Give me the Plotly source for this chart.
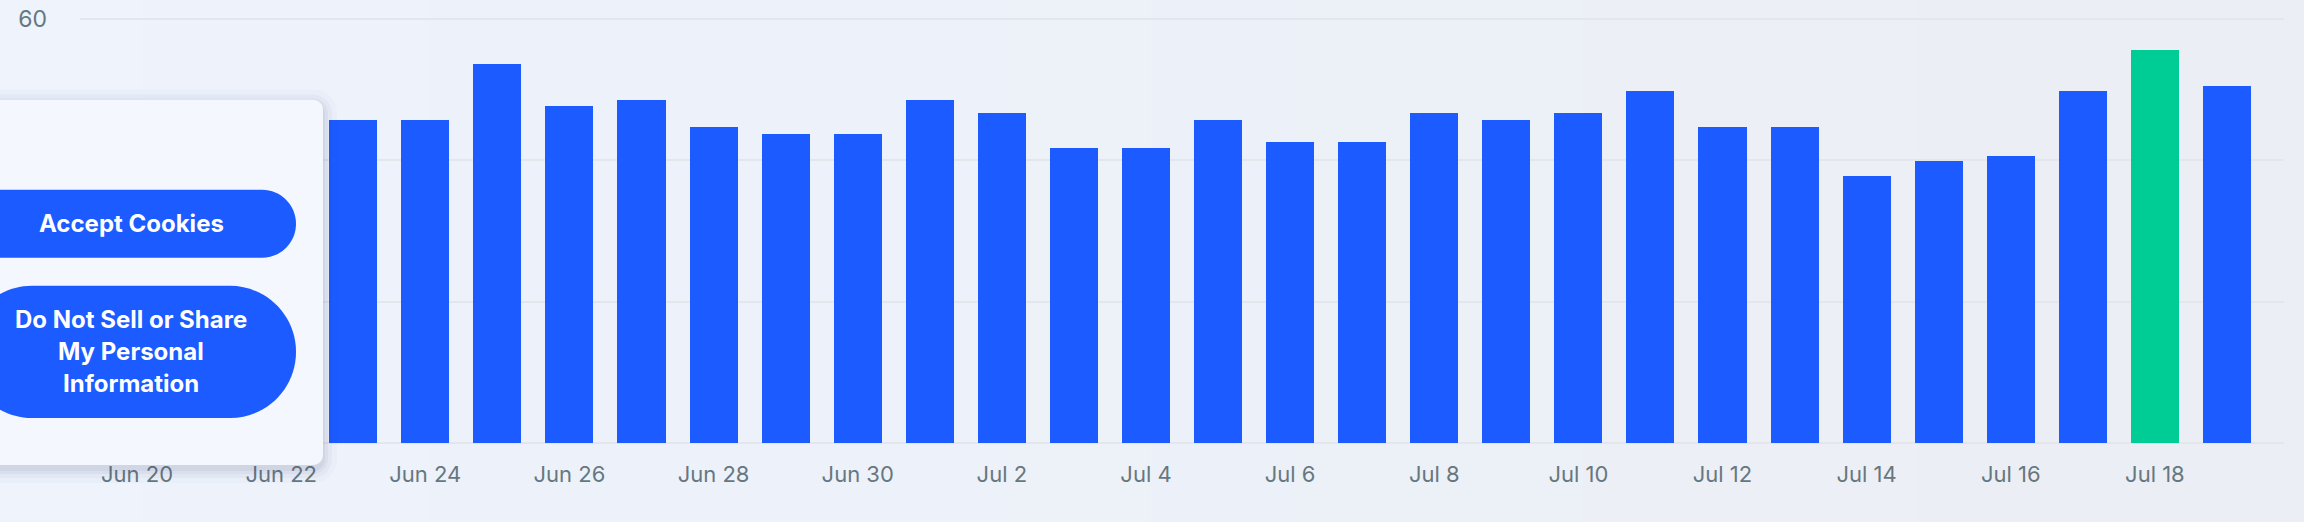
import pandas as pd
import plotly.graph_objects as go

# ---- data ----
start_date = "2024-06-20"
end_date = "2024-07-19"
values = [44.0, 46.0, 45.0,            # Jun 20-22 (hidden behind the cookie panel, estimated)
          45.7, 45.7, 53.6, 47.7, 48.5, 44.6, 43.7, 43.7,   # Jun 23-30
          48.5, 46.6, 41.7, 41.7, 45.7, 42.6, 42.6, 46.6,   # Jul 1-8
          45.7, 46.6, 49.7, 44.6, 44.6, 37.8, 39.8, 40.6,   # Jul 9-16
          49.7, 55.6, 50.5]                                  # Jul 17-19
highlight_date = "2024-07-18"
y_ticks = [0, 20, 40, 60]
y_tick_text = ["", "", "", "60"]   # only the 60 label is visible (others are under the panel)
button_accept = "Accept Cookies"
button_dns = ["Do Not Sell or Share", "My Personal", "Information"]

dates = pd.date_range(start_date, end_date, freq="D")

# ---- styles ----
W, H = 2304, 522
Y0_PX, Y60_PX = 443, 19          # pixel rows of value 0 and value 60
Y_TOP = 60.5                     # small headroom so the 60 gridline is drawn
k = (Y0_PX - Y60_PX) / 60.0
ML, MR = 80, 20
MB = H - Y0_PX
MT = Y60_PX - (Y_TOP - 60) * k
BLUE = "#1b5bff"
GREEN = "#00cc96"
GRID = "#e3e6eb"
TICK = "#67777f"
BTN_FONT = dict(family="Inter", size=24, color="white")

colors = [GREEN if d == pd.Timestamp(highlight_date) else BLUE for d in dates]

day_ms = 86400000
pad = pd.Timedelta(hours=19)

fig = go.Figure()
fig.add_trace(go.Bar(x=dates, y=values, marker=dict(color=colors, line=dict(width=0)),
                     width=day_ms * 0.667, hoverinfo="skip"))

PW = W - ML - MR
PH = H - MT - MB


def px(x):
    return (x - ML) / PW


def py(y):
    return (H - MB - y) / PH


def rounded_path(x0, y0, x1, y1, r):
    c = 0.5523 * r

    def P(x, y):
        return f"{px(x):.6f},{py(y):.6f}"
    s = f"M {P(x0 + r, y0)} L {P(x1 - r, y0)} "
    s += f"C {P(x1 - r + c, y0)} {P(x1, y0 + r - c)} {P(x1, y0 + r)} "
    s += f"L {P(x1, y1 - r)} "
    s += f"C {P(x1, y1 - r + c)} {P(x1 - r + c, y1)} {P(x1 - r, y1)} "
    s += f"L {P(x0 + r, y1)} "
    s += f"C {P(x0 + r - c, y1)} {P(x0, y1 - r + c)} {P(x0, y1 - r)} "
    s += f"L {P(x0, y0 + r)} "
    s += f"C {P(x0, y0 + r - c)} {P(x0 + r - c, y0)} {P(x0 + r, y0)} Z"
    return s


shapes = []
# background gradient (horizontal)
N = 48
c0 = (238, 243, 252)
c1 = (235, 238, 244)
for i in range(N):
    t = i / (N - 1)
    col = tuple(round(c0[j] + (c1[j] - c0[j]) * t) for j in range(3))
    shapes.append(dict(type="rect", xref="paper", yref="paper", layer="below",
                       x0=px(W * i / N - 1), x1=px(W * (i + 1) / N + 1),
                       y0=py(H), y1=py(0), line=dict(width=0),
                       fillcolor=f"rgb{col}"))

# panel shadow
for grow, op in [(14, 0.025), (9, 0.035), (5, 0.05), (2, 0.06)]:
    shapes.append(dict(type="path", xref="paper", yref="paper", layer="above",
                       path=rounded_path(-40 - grow, 100 - grow + 4, 323 + grow, 465 + grow + 4, 10 + grow),
                       fillcolor=f"rgba(60,70,110,{op})", line=dict(width=0)))
# panel
shapes.append(dict(type="path", xref="paper", yref="paper", layer="above",
                   path=rounded_path(-40, 100, 323, 465, 10),
                   fillcolor="#f4f7fe", line=dict(width=0)))
# buttons
shapes.append(dict(type="path", xref="paper", yref="paper", layer="above",
                   path=rounded_path(-34, 190, 296, 258, 34),
                   fillcolor=BLUE, line=dict(width=0)))
shapes.append(dict(type="path", xref="paper", yref="paper", layer="above",
                   path=rounded_path(-34, 286, 296, 418, 66),
                   fillcolor=BLUE, line=dict(width=0)))

annotations = [
    dict(text=f"<b>{button_accept}</b>", xref="paper", yref="paper", x=px(131), y=py(224),
         xanchor="center", yanchor="middle", showarrow=False, font=BTN_FONT),
]
for i, line in enumerate(button_dns):
    annotations.append(dict(text=f"<b>{line}</b>", xref="paper", yref="paper",
                            x=px(131), y=py(320 + 32 * i), xanchor="center", yanchor="middle",
                            showarrow=False, font=BTN_FONT))

fig.update_layout(
    width=W, height=H,
    margin=dict(l=ML, r=MR, t=MT, b=MB, pad=0, autoexpand=False),
    paper_bgcolor="#edf1f9", plot_bgcolor="rgba(0,0,0,0)",
    showlegend=False, bargap=0,
    shapes=shapes, annotations=annotations,
    font=dict(family="Inter", color=TICK),
    xaxis=dict(type="date", automargin=False,
               range=[dates[0] - pad, dates[-1] + pad],
               tick0=start_date, dtick=2 * day_ms, tickformat="%b %-d",
               showgrid=False, zeroline=False, showline=False, ticks="",
               ticklabelstandoff=16,
               tickfont=dict(family="Inter", size=22, color=TICK)),
    yaxis=dict(range=[0, Y_TOP], tickvals=y_ticks, ticktext=y_tick_text, automargin=False,
               showgrid=True, gridcolor=GRID, gridwidth=2,
               zeroline=True, zerolinecolor=GRID, zerolinewidth=2, showline=False, ticks="",
               ticklabelstandoff=32,
               tickfont=dict(family="Inter", size=23, color=TICK)),
)

fig.write_html("out.html")
